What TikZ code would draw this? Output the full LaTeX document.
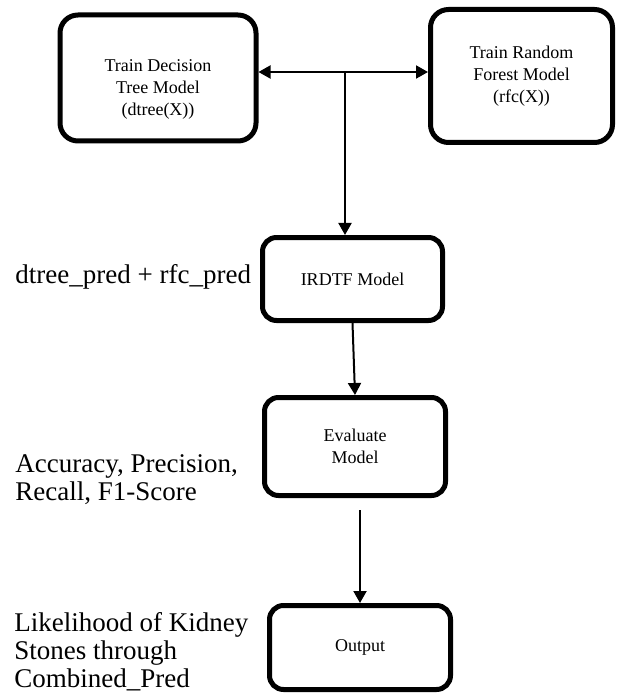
\documentclass[tikz,border=0pt]{standalone}
\usepackage{fontspec}
\setmainfont{Liberation Serif}
\usetikzlibrary{arrows.meta}

\tikzset{
  stage/.style={draw, line width=2.5pt, rounded corners=9pt, align=center,
    inner sep=2pt, font=\fontsize{9}{11}\selectfont},
  flow/.style={line width=1pt, -{Triangle[length=6pt,width=6.5pt]}},
  remark/.style={align=left, anchor=base west, inner sep=0pt,
    font=\fontsize{13.5}{14}\selectfont}
}

\begin{document}
\begin{tikzpicture}[x=0.5pt, y=-0.5pt]
  % Frame of the picture (pixel grid, y downwards)
  \useasboundingbox (0,0) rectangle (616,695);

  % Training blocks
  \node[stage, minimum width=98pt, minimum height=63pt] (dtree) at (158,78)
    {\rule{0pt}{17pt}Train Decision\\Tree Model\\(dtree(X))};
  \node[stage, minimum width=91pt, minimum height=66.5pt] (rfc) at (521.5,76)
    {Train Random\\Forest Model\\(rfc(X))};

  % Pipeline blocks
  \node[stage, rounded corners=7pt, minimum width=90pt, minimum height=41.5pt] (irdtf) at (352.5,279) {IRDTF Model};
  \node[stage, rounded corners=7pt, minimum width=90.5pt, minimum height=49pt] (eval) at (355,446.5) {Evaluate\\Model};
  \node[stage, rounded corners=7pt, minimum width=90.5pt, minimum height=42pt] (out) at (360,647.5) {Output};

  % Joint between the two training blocks
  \coordinate (hub) at (345,72);

  % Connectors
  \draw[flow, {Triangle[length=6pt,width=6.5pt]}-{Triangle[length=6pt,width=6.5pt]}] (dtree.east |- hub) -- (rfc.west |- hub);
  \draw[flow] (hub) -- (hub |- irdtf.north);
  \draw[flow] (irdtf.south) -- (eval.north);
  \draw[flow, shorten <=6pt] (out.north |- eval.south) -- (out.north);

  % Side notes (base anchor sits on the last line)
  \node[remark] (combine) at (15,283) {dtree\_pred + rfc\_pred};
  \node[remark] (metrics) at (15,500) {Accuracy, Precision,\\Recall, F1-Score};
  \node[remark] (result) at (14,687) {Likelihood of Kidney\\Stones through\\Combined\_Pred};
\end{tikzpicture}
\end{document}
